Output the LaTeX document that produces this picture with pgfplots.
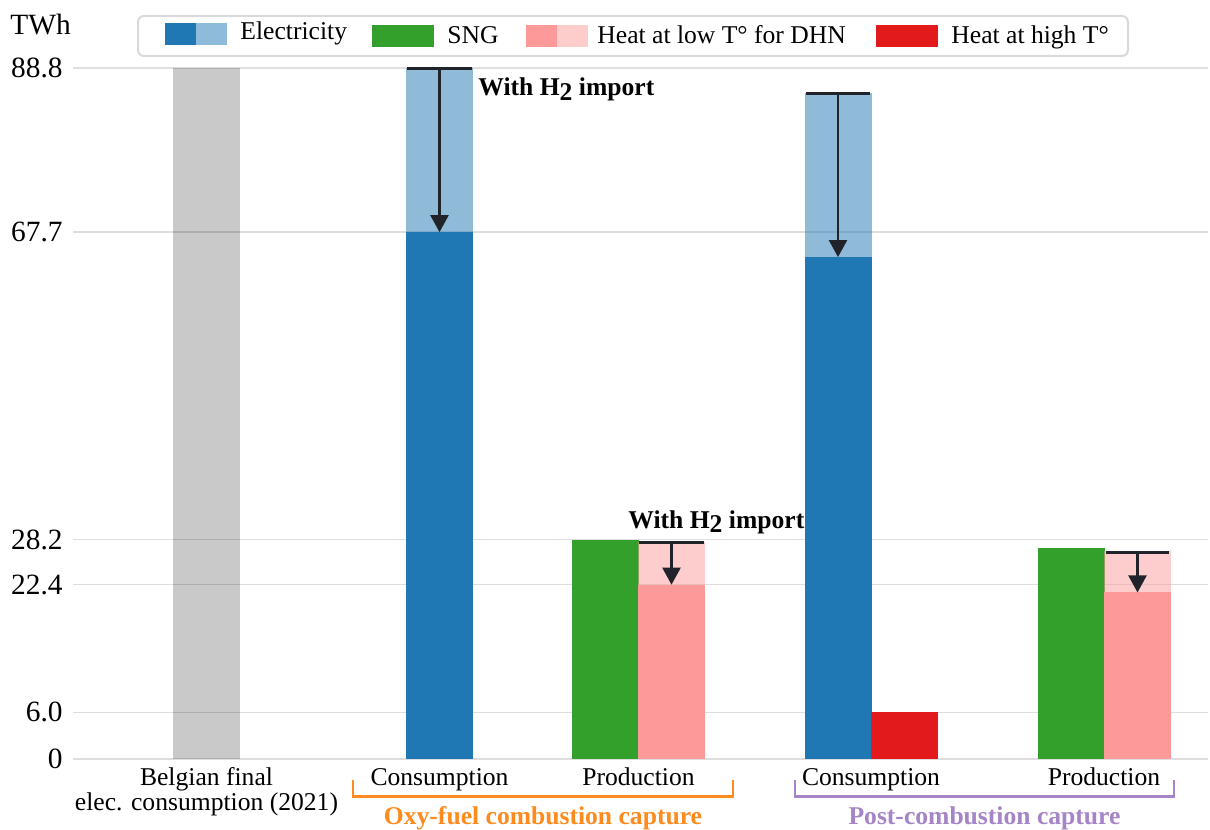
\documentclass[border=0pt]{standalone}
\usepackage{pgfplots}
\pgfplotsset{compat=1.18}
\usetikzlibrary{arrows.meta}
\usepackage{fontspec}
\setmainfont{Liberation Serif}

\definecolor{elec}{HTML}{1F78B4}
\definecolor{sng}{HTML}{33A02C}
\definecolor{lowheat}{HTML}{FB9A99}
\definecolor{highheat}{HTML}{E31A1C}
\definecolor{oxy}{HTML}{FF8A1E}
\definecolor{post}{HTML}{A584C7}
\definecolor{arrowc}{HTML}{20242A}

\newcommand{\hii}{H\raisebox{-2.3pt}{2}}

\begin{document}
\begin{tikzpicture}
\begin{axis}[
  at={(36.5pt,-379.5pt)}, anchor=south west,
  scale only axis, width=567.5pt, height=345.5pt,
  xmin=73, xmax=1208, ymin=0, ymax=88.8,
  clip=false,
  axis line style={draw=none},
  tick style={draw=none},
  major tick length=0pt,
  xtick=\empty,
  ytick={0,6.0,22.4,28.2,67.7,88.8},
  yticklabels={0,6.0,22.4,28.2,67.7,88.8},
  /pgf/number format/assume math mode=true,
  yticklabel style={font=\fontsize{14.7}{16}\selectfont, inner sep=0pt, xshift=-5pt},
  ymajorgrids,
  grid style={draw=black!13, line width=0.8pt},
  every axis plot/.append style={ybar, bar width=67, bar shift=0pt, draw=none},
]
% Belgian final electricity consumption (2021)
\addplot[fill=black, fill opacity=0.21] coordinates {(206.5,88.8)};
% Oxy-fuel: consumption without / with H2 import
\addplot[fill=elec, fill opacity=0.5] coordinates {(439.5,88.8)};
\addplot[fill=elec] coordinates {(439.5,67.7)};
% Oxy-fuel: production
\addplot[fill=sng] coordinates {(605,28.2)};
\addplot[fill=lowheat, fill opacity=0.5] coordinates {(671.5,27.9)};
\addplot[fill=lowheat] coordinates {(671.5,22.4)};
% Post-combustion: consumption
\addplot[fill=elec, fill opacity=0.5] coordinates {(838,85.6)};
\addplot[fill=elec] coordinates {(838,64.5)};
\addplot[fill=highheat] coordinates {(904.5,6.0)};
% Post-combustion: production
\addplot[fill=sng] coordinates {(1071,27.1)};
\addplot[fill=lowheat, fill opacity=0.5] coordinates {(1137.5,26.7)};
\addplot[fill=lowheat] coordinates {(1137.5,21.4)};

% reduction arrows (with H2 import)
\pgfplotsset{
  cap/.style={sharp plot, draw=arrowc, line width=1.5pt, fill=none},
  drop/.style={sharp plot, draw=arrowc, line width=1.1pt, fill=none,
    -{Triangle[width=9pt,length=8.5pt]}},
}
\addplot[cap] coordinates {(407,88.8) (472,88.8)};
\addplot[drop] coordinates {(439.5,88.8) (439.5,67.7)};
\addplot[cap] coordinates {(639,27.8) (704,27.8)};
\addplot[drop] coordinates {(671.5,27.8) (671.5,22.4)};
\addplot[cap] coordinates {(806,85.5) (870,85.5)};
\addplot[drop] coordinates {(838,85.5) (838,64.5)};
\addplot[cap] coordinates {(1106,26.6) (1169,26.6)};
\addplot[drop] coordinates {(1137.5,26.6) (1137.5,21.4)};
\end{axis}

\begin{scope}[x=0.5pt, y=-0.5pt, font=\fontsize{12.8}{14}\selectfont]
  % page frame
  \path (0,0) rectangle (1210,829);

  % unit
  \node[anchor=base west, inner sep=0pt, font=\fontsize{14.7}{16}\selectfont] at (10,35) {TWh};

  % legend
  \draw[black!15, line width=1pt, rounded corners=3pt, fill=white] (138,16) rectangle (1128,56);
  \fill[elec] (165,23) rectangle (196,45);
  \fill[elec!50] (196,23) rectangle (227,45);
  \node[anchor=base west, inner sep=0pt] at (240,40) {Electricity};
  \fill[sng] (372,25) rectangle (434,47);
  \node[anchor=base west, inner sep=0pt] at (447,44) {SNG};
  \fill[lowheat] (526,25) rectangle (557,47);
  \fill[lowheat!50] (557,25) rectangle (588,47);
  \node[anchor=base west, inner sep=0pt] at (597,44) {Heat at low T° for DHN};
  \fill[highheat] (876,25) rectangle (938,47);
  \node[anchor=base west, inner sep=0pt] at (951,44) {Heat at high T°};

  % annotations
  \node[anchor=base west, inner sep=0pt, font=\fontsize{12.8}{14}\selectfont\bfseries] at (478,96) {With \hii{} import};
  \node[anchor=base west, inner sep=0pt, font=\fontsize{12.8}{14}\selectfont\bfseries] at (628,528) {With \hii{} import};

  % category labels
  \node[anchor=base, inner sep=0pt] at (206.5,785) {Belgian final};
  \node[anchor=base, inner sep=0pt] at (206.5,810) {elec. consumption (2021)};
  \node[anchor=base, inner sep=0pt] at (439.5,785) {Consumption};
  \node[anchor=base, inner sep=0pt] at (638.5,785) {Production};
  \node[anchor=base, inner sep=0pt] at (871,785) {Consumption};
  \node[anchor=base, inner sep=0pt] at (1104,785) {Production};

  % group brackets
  \draw[oxy, line width=1.3pt] (353,780) -- (353,796.5) -- (733,796.5) -- (733,780);
  \node[anchor=base, inner sep=0pt, text=oxy, font=\fontsize{12.8}{14}\selectfont\bfseries] at (543,824) {Oxy-fuel combustion capture};
  \draw[post, line width=1.3pt] (795,780) -- (795,796.5) -- (1174,796.5) -- (1174,780);
  \node[anchor=base, inner sep=0pt, text=post, font=\fontsize{12.8}{14}\selectfont\bfseries] at (984.5,824) {Post-combustion capture};
\end{scope}
\end{tikzpicture}
\end{document}
